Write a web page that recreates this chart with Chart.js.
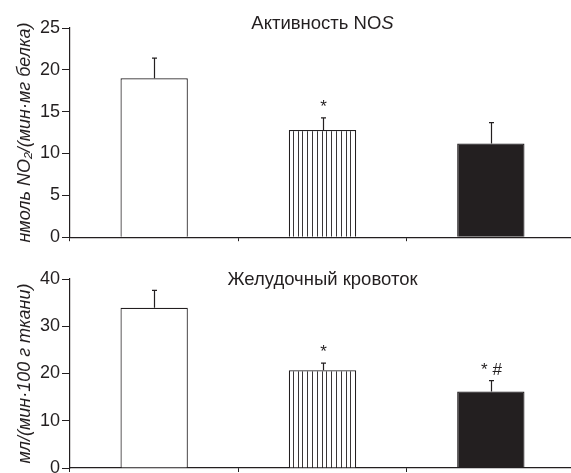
<!DOCTYPE html>
<html>
<head>
<meta charset="utf-8">
<script src="https://cdn.jsdelivr.net/npm/chart.js@4"></script>
<style>
  body { margin: 0; background: #fff; }
  #wrap { position: relative; width: 571px; height: 473px; overflow: hidden; background: #fff; }
  .panel { position: absolute; left: 0; }
  .ttl { position: absolute; left: 70px; width: 505px; text-align: center;
         font: 18.5px "Liberation Sans", Arial, sans-serif; line-height: 22px; color: #231f20; }
</style>
</head>
<body>
<div id="wrap">
  <canvas id="nos" class="panel" width="576" height="250" style="top:0"></canvas>
  <canvas id="flow" class="panel" width="576" height="240" style="top:250px"></canvas>
  <div class="ttl" style="top:12px">Активность NO<i>S</i></div>
  <div class="ttl" style="top:268px">Желудочный кровоток</div>
</div>
<script>
// данные
const groups = ['Группа 1', 'Группа 2', 'Группа 3'];

const nosValues = [19.0, 12.8, 11.2];
const nosErrors = [2.4, 1.45, 2.5];
const nosMarks = ['', '*', ''];
const nosTicks = [0, 5, 10, 15, 20, 25];

const flowValues = [33.9, 20.7, 16.2];
const flowErrors = [3.7, 1.5, 2.3];
const flowMarks = ['', '*', '* #'];
const flowTicks = [0, 10, 20, 30, 40];

const INK = '#231f20';
const FONT = '"Liberation Sans", Arial, sans-serif';

// штриховка для второй группы
function makeStripes() {
  const c = document.createElement('canvas');
  c.width = 24; c.height = 4;
  const g = c.getContext('2d');
  g.fillStyle = '#fff';
  g.fillRect(0, 0, 24, 4);
  g.fillStyle = '#3a3637';
  [0, 5, 10, 14, 19].forEach(x => g.fillRect(x, 0, 1, 4));
  return g.createPattern(c, 'repeat');
}
const stripes = makeStripes();

// планки ошибок и значки над столбцами
const errorBars = {
  id: 'errorBars',
  afterDatasetsDraw(chart, args, opts) {
    const ctx = chart.ctx;
    const y = chart.scales.y;
    const meta = chart.getDatasetMeta(0);
    ctx.save();
    ctx.strokeStyle = INK;
    ctx.lineWidth = 1.2;
    meta.data.forEach((bar, i) => {
      const top = y.getPixelForValue(opts.values[i] + opts.errors[i]);
      const x = Math.round(bar.x) + 0.5;
      ctx.beginPath();
      ctx.moveTo(x, bar.y);
      ctx.lineTo(x, top);
      ctx.moveTo(x - 2.5, top);
      ctx.lineTo(x + 2.5, top);
      ctx.stroke();
      if (opts.marks[i]) {
        ctx.fillStyle = INK;
        ctx.font = '17px ' + FONT;
        ctx.textAlign = 'center';
        ctx.textBaseline = 'alphabetic';
        ctx.fillText(opts.marks[i], x, top - 6);
      }
    });
    ctx.restore();
  }
};

function makeChart(id, values, errors, marks, ticks, yTitle, padTop, xHeight) {
  return new Chart(document.getElementById(id), {
    type: 'bar',
    data: {
      labels: groups,
      datasets: [{
        data: values,
        backgroundColor: ['#ffffff', stripes, INK],
        borderColor: INK,
        borderWidth: 1.2,
        barPercentage: 0.4,
        categoryPercentage: 1
      }]
    },
    options: {
      responsive: false,
      animation: false,
      devicePixelRatio: 1,
      layout: { padding: { top: padTop, left: 0, right: 1, bottom: 0 } },
      plugins: {
        legend: { display: false },
        tooltip: { enabled: false },
        errorBars: { values: values, errors: errors, marks: marks }
      },
      scales: {
        x: {
          offset: true,
          grid: { offset: true, drawOnChartArea: false, tickLength: 4, color: INK },
          border: { color: INK, width: 1.2 },
          ticks: { display: false },
          afterFit: s => { s.height = xHeight; }
        },
        y: {
          min: ticks[0],
          max: ticks[ticks.length - 1],
          afterBuildTicks: s => { s.ticks = ticks.map(v => ({ value: v })); },
          grid: { drawOnChartArea: false, tickLength: 8, color: INK },
          border: { color: INK, width: 1.2 },
          ticks: { color: INK, padding: 2, font: { family: FONT, size: 18 } },
          title: {
            display: true,
            text: yTitle,
            color: INK,
            padding: { top: 14, bottom: 0 },
            font: { family: FONT, size: 18, style: 'italic' }
          },
          afterFit: s => { s.width = 70; }
        }
      }
    },
    plugins: [errorBars]
  });
}

makeChart('nos', nosValues, nosErrors, nosMarks, nosTicks,
  'нмоль NO₂/(мин·мг белка)', 28, 10);
makeChart('flow', flowValues, flowErrors, flowMarks, flowTicks,
  'мл/(мин·100 г ткани)', 29, 22);
</script>
</body>
</html>
